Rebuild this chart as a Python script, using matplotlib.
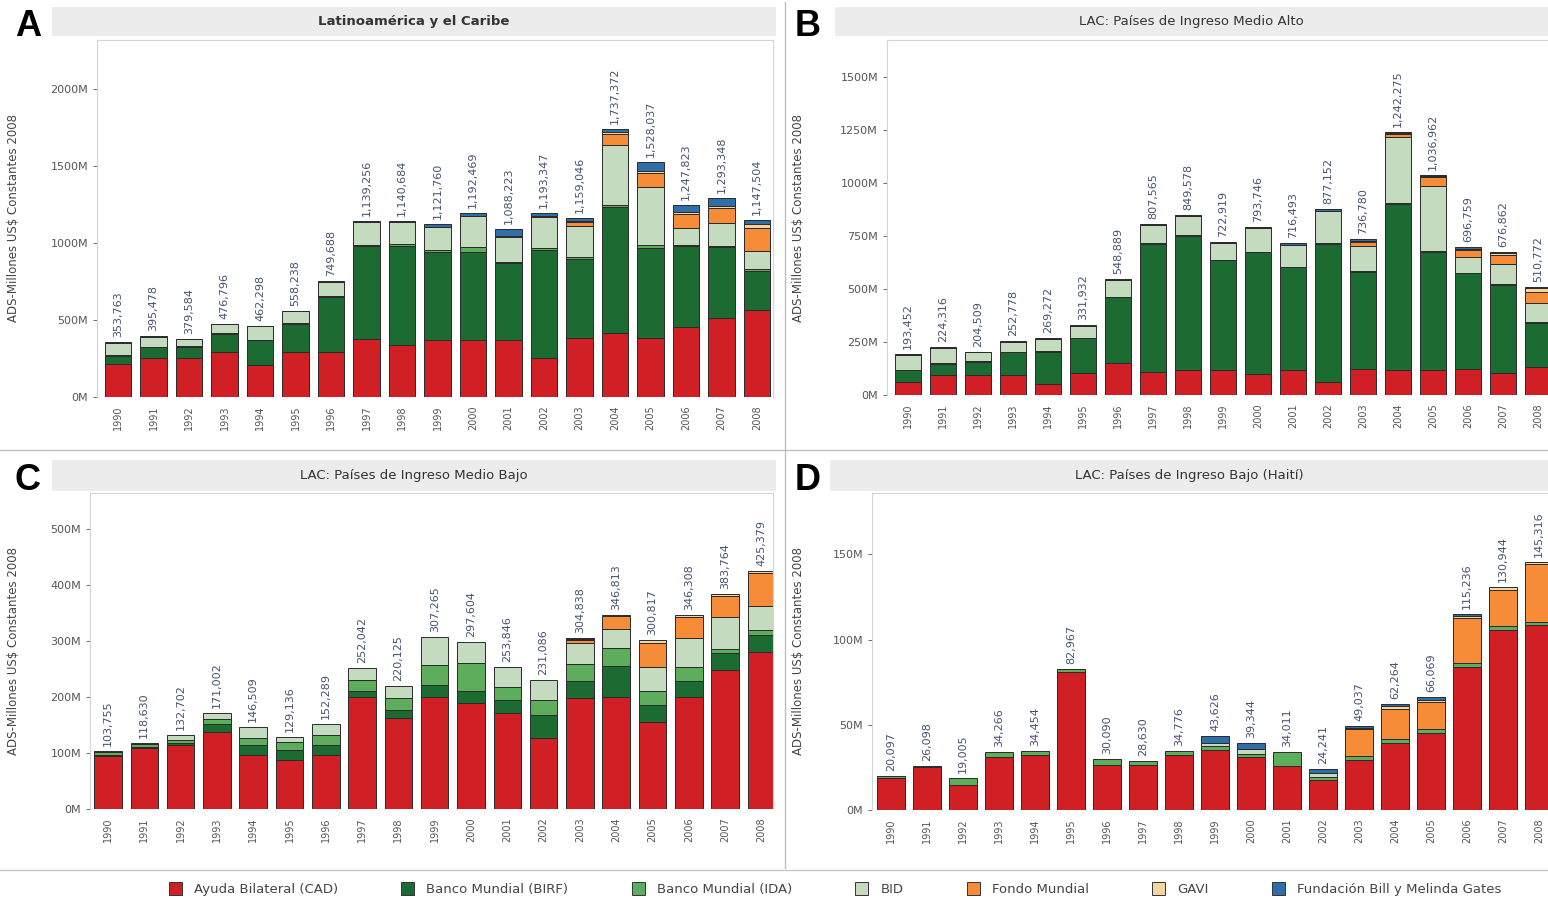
import numpy as np
import matplotlib.pyplot as plt
from matplotlib.patches import Rectangle, Patch
from matplotlib.lines import Line2D

W, H = 1548, 902

years = [str(y) for y in range(1990, 2009)]

sources = ["Ayuda Bilateral (CAD)", "Banco Mundial (BIRF)", "Banco Mundial (IDA)",
           "BID", "Fondo Mundial", "GAVI", "Fundación Bill y Melinda Gates"]
colors = ["#d11f26", "#1b6b32", "#5dad5d", "#c4dbbf", "#f68c37", "#f2d5a0", "#2f6ea8"]

# --- Latinoamérica y el Caribe (millones US$) ---
lac_cad = [214, 251, 250, 294, 208, 294, 294, 374, 337, 370, 370, 368, 250, 380, 413, 380, 455, 511, 565]
lac_birf = [52, 72, 75, 115, 160, 180, 355, 605, 645, 570, 573, 500, 705, 515, 820, 590, 522, 460, 255]
lac_ida = [6, 4, 4, 5, 5, 5, 6, 10, 10, 15, 30, 10, 10, 15, 15, 15, 10, 10, 10]
lac_bid = [78, 65, 48, 60, 86, 76, 92, 145, 143, 150, 200, 160, 200, 200, 390, 375, 110, 150, 120]
lac_fm = [0, 0, 0, 0, 0, 0, 0, 0, 0, 0, 0, 10, 8, 25, 70, 95, 90, 95, 150]
lac_gavi = [0, 0, 0, 0, 0, 0, 0, 0, 0, 0, 0, 0, 0, 5, 10, 15, 12, 15, 25]
lac_gates = [3.8, 3.5, 2.6, 2.8, 3.3, 3.2, 2.7, 5.3, 5.7, 16.8, 19.5, 40.2, 20.3, 19, 19.4, 58, 48.8, 52.3, 22.5]
lac_total = [353763, 395478, 379584, 476796, 462298, 558238, 749688, 1139256, 1140684, 1121760,
             1192469, 1088223, 1193347, 1159046, 1737372, 1528037, 1247823, 1293348, 1147504]

# --- Ingreso medio alto ---
uma_cad = [63, 94, 94, 94, 50, 102, 150, 110, 118, 118, 99, 118, 63, 121, 118, 118, 125, 102, 134]
uma_birf = [55, 52, 63, 107, 154, 166, 312, 605, 635, 517, 575, 485, 650, 460, 785, 555, 450, 418, 206]
uma_ida = [2, 3, 2, 2, 2, 2, 3, 3, 3, 3, 3, 3, 3, 3, 5, 5, 3, 5, 3]
uma_bid = [70, 72, 43, 47, 60, 58, 80, 85, 88, 80, 110, 104, 155, 120, 310, 310, 75, 95, 90]
uma_fm = [0, 0, 0, 0, 0, 0, 0, 0, 0, 0, 0, 0, 0, 20, 15, 40, 30, 40, 55]
uma_gavi = [0, 0, 0, 0, 0, 0, 0, 0, 0, 0, 0, 0, 0, 5, 5, 5, 8, 10, 15]
uma_gates = [3.5, 3.3, 2.5, 2.8, 3.3, 3.9, 3.9, 4.6, 5.6, 4.9, 6.7, 6.5, 6.2, 7.8, 4.3, 4, 5.8, 6.9, 7.8]
uma_total = [193452, 224316, 204509, 252778, 269272, 331932, 548889, 807565, 849578, 722919,
             793746, 716493, 877152, 736780, 1242275, 1036962, 696759, 676862, 510772]

# --- Ingreso medio bajo ---
lma_cad = [94, 108, 114, 138, 96, 87.5, 96, 200, 162, 200, 189, 171, 126, 198, 200, 156, 200, 248, 280]
lma_birf = [3, 3, 4, 14, 18, 17.5, 18, 10, 15, 22, 21, 24, 42, 30, 55, 30, 29, 30, 30]
lma_ida = [4, 5, 6, 8, 12, 15, 18, 20, 21, 35, 50, 23, 27, 30, 33, 24, 25, 8, 10]
lma_bid = [2.8, 2.6, 8.7, 11, 20.5, 9.1, 20.3, 22, 22.1, 50.3, 37.6, 35.8, 36.1, 38, 34, 44, 52, 56, 42]
lma_fm = [0, 0, 0, 0, 0, 0, 0, 0, 0, 0, 0, 0, 0, 5, 22, 42, 37, 38, 60]
lma_gavi = [0, 0, 0, 0, 0, 0, 0, 0, 0, 0, 0, 0, 0, 2, 2.8, 4.8, 3.3, 3.8, 3.4]
lma_gates = [0, 0, 0, 0, 0, 0, 0, 0, 0, 0, 0, 0, 0, 1.8, 0, 0, 0, 0, 0]
lma_total = [103755, 118630, 132702, 171002, 146509, 129136, 152289, 252042, 220125, 307265,
             297604, 253846, 231086, 304838, 346813, 300817, 346308, 383764, 425379]

# --- Ingreso bajo (Haití) ---
low_cad = [19, 25, 14.7, 31.3, 32, 81, 26.5, 26.6, 32.3, 35.3, 31.3, 26, 17.6, 29.4, 39.4, 45.3, 84, 105.8, 108.8]
low_birf = [0] * 19
low_ida = [1.1, 1.1, 4.3, 3, 2.5, 2, 3.6, 2, 2.5, 2, 1.5, 8, 2, 2, 2, 2, 2.5, 2, 1.5]
low_bid = [0, 0, 0, 0, 0, 0, 0, 0, 0, 2.3, 3, 0, 2, 0, 0, 0, 0, 0, 0]
low_fm = [0, 0, 0, 0, 0, 0, 0, 0, 0, 0, 0, 0, 0, 16, 18, 16, 26, 21.5, 34]
low_gavi = [0, 0, 0, 0, 0, 0, 0, 0, 0, 0, 0, 0, 0, 0.6, 1.5, 1.5, 1.5, 1.6, 1]
low_gates = [0, 0, 0, 0, 0, 0, 0, 0, 0, 4, 3.5, 0, 2.6, 1, 1.4, 1.3, 1.2, 0, 0]
low_total = [20097, 26098, 19005, 34266, 34454, 82967, 30090, 28630, 34776, 43626,
             39344, 34011, 24241, 49037, 62264, 66069, 115236, 130944, 145316]

plt.rcParams["font.family"] = ["DejaVu Sans"]
fig = plt.figure(figsize=(W / 100, H / 100), dpi=100)


def add_px_axes(x0, y0, x1, y1):
    return fig.add_axes([x0 / W, 1 - y1 / H, (x1 - x0) / W, (y1 - y0) / H])


def draw_panel(box, c0, step, ymax, yticks, series, totals):
    x0, y0, x1, y1 = box
    ax = add_px_axes(x0, y0, x1, y1)
    x = np.arange(len(years))
    bottom = np.zeros(len(years))
    for vals, col in zip(series, colors):
        vals = np.array(vals, dtype=float)
        m = vals > 0
        ax.bar(x[m], vals[m], 0.76, bottom=bottom[m], color=col,
               edgecolor="#2a2a2a", linewidth=0.7)
        bottom += vals
    pad = 5 * ymax / (y1 - y0)
    for xi, t in zip(x, totals):
        ax.text(xi, t / 1000 + pad, f"{t:,}", rotation=90, ha="center", va="bottom",
                fontsize=8, color="#465170")
    ax.set_xlim((x0 - c0) / step, (x1 - c0) / step)
    ax.set_ylim(0, ymax)
    ax.set_yticks(yticks)
    ax.set_yticklabels([f"{t}M" for t in yticks])
    ax.set_xticks(x)
    ax.set_xticklabels(years, rotation=90)
    ax.tick_params(axis="y", labelsize=8, colors="#555555", length=3, width=0.6)
    ax.tick_params(axis="x", labelsize=7, colors="#555555", length=0, pad=6)
    for side in ["left", "top", "right"]:
        ax.spines[side].set_color("#d4d4d4")
        ax.spines[side].set_linewidth(0.8)
    ax.spines["bottom"].set_visible(False)
    return ax


draw_panel((97, 40, 773, 397), 118, 35.5, 2317, [0, 500, 1000, 1500, 2000],
           [lac_cad, lac_birf, lac_ida, lac_bid, lac_fm, lac_gavi, lac_gates], lac_total)
draw_panel((887, 40, 1556, 395), 908, 35, 1676, [0, 250, 500, 750, 1000, 1250, 1500],
           [uma_cad, uma_birf, uma_ida, uma_bid, uma_fm, uma_gavi, uma_gates], uma_total)
draw_panel((90, 493, 773, 809), 108, 36.3, 564, [0, 100, 200, 300, 400, 500],
           [lma_cad, lma_birf, lma_ida, lma_bid, lma_fm, lma_gavi, lma_gates], lma_total)
draw_panel((872, 493, 1556, 810), 891, 36, 186, [0, 50, 100, 150],
           [low_cad, low_birf, low_ida, low_bid, low_fm, low_gavi, low_gates], low_total)

# title bands, panel letters and axis titles
panels = [
    ("A", "Latinoamérica y el Caribe", "bold", 28, 52, 776, 7, 36, 14, 218),
    ("B", "LAC: Países de Ingreso Medio Alto", "normal", 808, 835, 1548, 7, 36, 798, 218),
    ("C", "LAC: Países de Ingreso Medio Bajo", "normal", 28, 52, 776, 460, 491, 14, 651),
    ("D", "LAC: Países de Ingreso Bajo (Haití)", "normal", 808, 830, 1548, 460, 491, 798, 651),
]
for letter, title, weight, lx, bx0, bx1, by0, by1, ylx, yly in panels:
    fig.patches.append(Rectangle((bx0 / W, 1 - by1 / H), (bx1 - bx0) / W, (by1 - by0) / H,
                                 transform=fig.transFigure, facecolor="#ececec",
                                 edgecolor="none", zorder=0))
    fig.text((bx0 + bx1) / 2 / W, 1 - (by0 + by1) / 2 / H, title, ha="center", va="center",
             fontsize=9.5, fontweight=weight, color="#333333")
    fig.text(lx / W, 1 - (by0 + by1) / 2 / H - 0.005, letter, ha="center", va="center",
             fontsize=26, fontweight="bold", family=["Liberation Sans", "DejaVu Sans"])
    fig.text(ylx / W, 1 - yly / H, "ADS-Millones US$ Constantes 2008", rotation=90,
             ha="center", va="center", fontsize=8.5, color="#444444")

# divider lines
fig.add_artist(Line2D([785 / W, 785 / W], [1 - 2 / H, 1 - 868 / H], color="#bdbdbd", lw=1))
fig.add_artist(Line2D([0, 1], [1 - 450 / H, 1 - 450 / H], color="#bdbdbd", lw=1))
fig.add_artist(Line2D([0, 1], [1 - 870 / H, 1 - 870 / H], color="#c8c8c8", lw=1))

handles = [Patch(facecolor=c, edgecolor="#333333", linewidth=0.7) for c in colors]
fig.legend(handles, sources, loc="center", bbox_to_anchor=(835 / W, 1 - 889 / H), ncol=7,
           frameon=False, fontsize=9.5, columnspacing=4.8, handlelength=1.0,
           handleheight=1.2, handletextpad=0.9, labelcolor="#444444")

fig.savefig("out.png", dpi=100)
